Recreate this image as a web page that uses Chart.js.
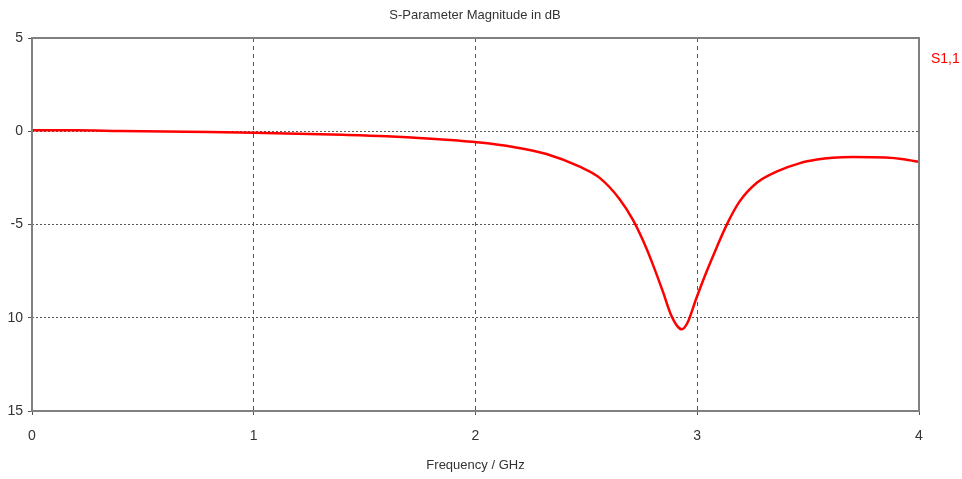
<!DOCTYPE html>
<html>
<head>
<meta charset="utf-8">
<title>S-Parameter Magnitude in dB</title>
<script src="https://cdn.jsdelivr.net/npm/chart.js@4.4.0/dist/chart.umd.min.js"></script>
<style>
    html, body { margin: 0; padding: 0; background: #ffffff; }
    #wrap { position: relative; width: 962px; height: 479px; }
</style>
</head>
<body>
<div id="wrap"><canvas id="sparamChart" width="962" height="479"></canvas></div>
<script>
// --- DATA ---
const freqGHz = [0, 0.2, 0.4, 0.6, 0.8, 1.0, 1.2, 1.4, 1.6, 1.8, 1.92, 2.02, 2.17, 2.32, 2.47,
    2.56, 2.65, 2.71, 2.755, 2.8, 2.845, 2.88, 2.91, 2.93, 2.956, 2.994, 3.04, 3.09, 3.137,
    3.189, 3.27, 3.36, 3.46, 3.54, 3.61, 3.7, 3.85, 3.93, 4.0];
const s11dB = [0.05, 0.05, 0.01, -0.02, -0.04, -0.08, -0.13, -0.19, -0.27, -0.4, -0.5, -0.6, -0.84, -1.22, -1.9,
    -2.5, -3.64, -4.75, -5.85, -7.15, -8.6, -9.8, -10.45, -10.62, -10.27, -9.02, -7.59, -6.16, -4.91,
    -3.8, -2.75, -2.15, -1.72, -1.52, -1.42, -1.38, -1.41, -1.5, -1.64];
const xTicks = [0, 1, 2, 3, 4];
const yTicks = [5, 0, -5, -10, -15];
const yTickLabels = ['5', '0', '-5', '10', '15'];

const chartTitle = 'S-Parameter Magnitude in dB';
const xAxisTitle = 'Frequency / GHz';
const seriesName = 'S1,1';

const FONT = '"Liberation Sans", "DejaVu Sans", sans-serif';
const textColor = '#333333';
const gridColor = '#555555';
const lineColor = '#ff0000';

// --- PLUGINS ---
const frameAndLabels = {
    id: 'frameAndLabels',
    afterDraw(chart) {
        const { ctx, chartArea } = chart;
        ctx.save();
        // plot frame
        ctx.strokeStyle = '#808080';
        ctx.lineWidth = 2;
        ctx.setLineDash([]);
        ctx.strokeRect(chartArea.left, chartArea.top, chartArea.right - chartArea.left, chartArea.bottom - chartArea.top);
        // title
        ctx.fillStyle = textColor;
        ctx.font = '13px ' + FONT;
        ctx.textAlign = 'center';
        ctx.textBaseline = 'middle';
        ctx.fillText(chartTitle, 475, 15);
        // series label at right
        ctx.fillStyle = lineColor;
        ctx.font = '14px ' + FONT;
        ctx.textAlign = 'left';
        ctx.fillText(seriesName, 931, 59);
        ctx.restore();
    }
};

// --- CHART ---
const points = freqGHz.map((f, i) => ({ x: f, y: s11dB[i] }));

new Chart(document.getElementById('sparamChart'), {
    type: 'line',
    data: {
        datasets: [{
            label: seriesName,
            data: points,
            borderColor: lineColor,
            borderWidth: 2.5,
            pointRadius: 0,
            fill: false,
            cubicInterpolationMode: 'monotone'
        }]
    },
    options: {
        responsive: false,
        animation: false,
        layout: { padding: { top: 38, right: 43, left: 0, bottom: 0 } },
        plugins: {
            legend: { display: false },
            title: { display: false },
            tooltip: { enabled: false }
        },
        scales: {
            x: {
                type: 'linear',
                min: 0,
                max: 4,
                afterBuildTicks: (scale) => { scale.ticks = xTicks.map(v => ({ value: v })); },
                afterFit: (scale) => { scale.height = 68; },
                ticks: {
                    color: textColor,
                    font: { family: FONT, size: 14 },
                    padding: 13,
                    callback: (v) => String(v)
                },
                grid: {
                    color: gridColor,
                    lineWidth: 1,
                    tickLength: 4,
                    tickColor: gridColor,
                    drawTicks: true
                },
                border: { display: false, dash: [4, 4] },
                title: {
                    display: true,
                    text: xAxisTitle,
                    color: textColor,
                    font: { family: FONT, size: 13 },
                    padding: { top: 4, bottom: 6 }
                }
            },
            y: {
                type: 'linear',
                min: -15,
                max: 5,
                afterBuildTicks: (scale) => { scale.ticks = yTicks.map(v => ({ value: v })); },
                afterFit: (scale) => { scale.width = 32; },
                ticks: {
                    color: textColor,
                    font: { family: FONT, size: 14 },
                    padding: 5,
                    callback: (v) => yTickLabels[yTicks.indexOf(v)]
                },
                grid: {
                    color: gridColor,
                    lineWidth: 1,
                    tickLength: 4,
                    tickColor: gridColor
                },
                border: { display: false, dash: [2, 2] }
            }
        }
    },
    plugins: [frameAndLabels]
});
</script>
</body>
</html>
